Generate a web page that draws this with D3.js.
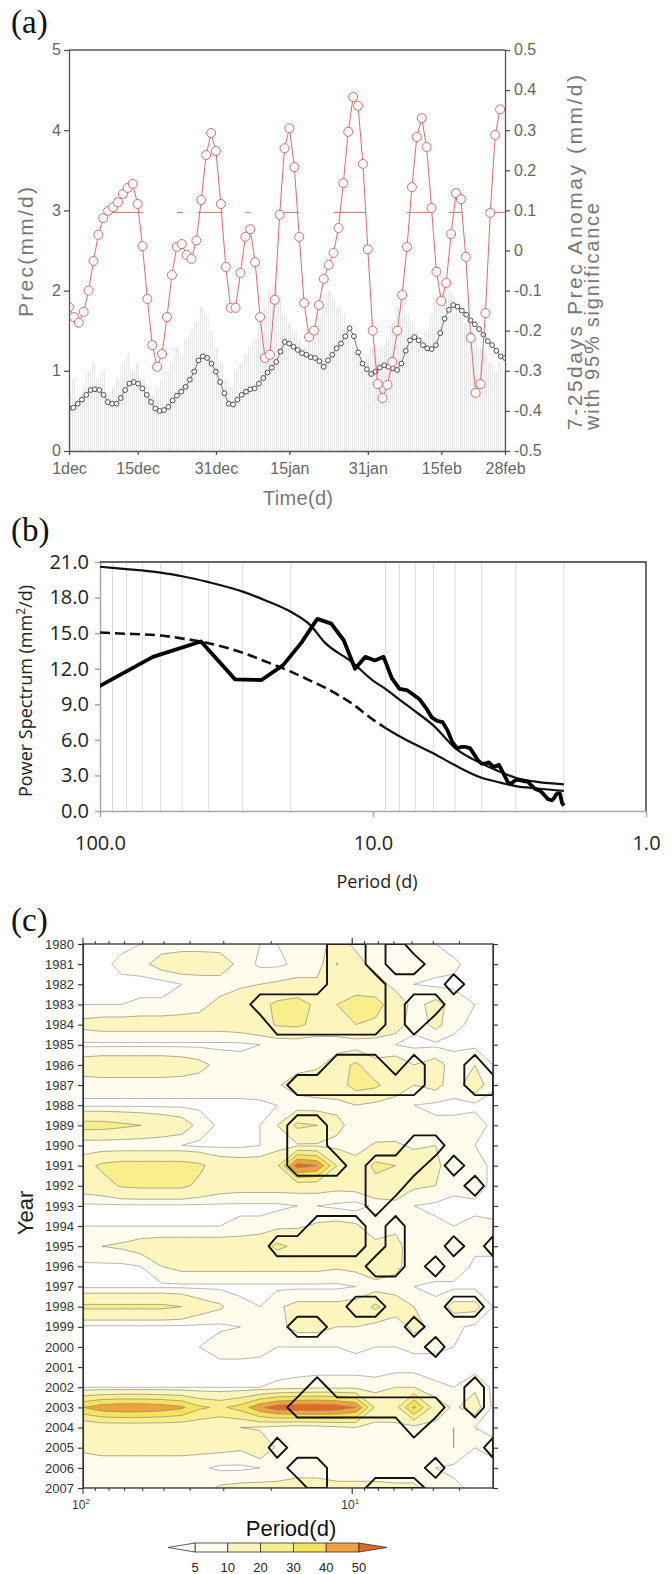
<!DOCTYPE html>
<html>
<head>
<meta charset="utf-8">
<script src="https://cdn.jsdelivr.net/npm/d3@7"></script>
<style>
  body { margin: 0; background: #fff; }
  svg { display: block; }
</style>
</head>
<body>
<svg id="fig" width="672" height="1574"></svg>
<script>
// ---------- panel (a) data ----------
const dayTicks = [0, 14, 30, 45, 61, 76, 89];
const dayTickLabels = ['1dec', '15dec', '31dec', '15jan', '31jan', '15feb', '28feb'];
const precTicks = [0, 1, 2, 3, 4, 5];
const anomTicks = [-0.5, -0.4, -0.3, -0.2, -0.1, 0, 0.1, 0.2, 0.3, 0.4, 0.5];

// faint daily bars (mm/d), left axis
const dailyPrec = [
  0.7, 0.9, 0.6, 0.8, 1.0, 1.1, 0.9, 1.0, 0.7, 0.8,
  0.9, 1.1, 1.2, 1.0, 1.1, 0.9, 0.8, 0.7, 0.8, 0.9,
  1.0, 1.1, 1.3, 1.2, 1.4, 1.5, 1.6, 1.8, 1.7, 1.5,
  1.3, 1.1, 0.9, 0.8, 1.0, 1.1, 1.2, 1.3, 1.4, 1.6,
  1.8, 2.0, 2.1, 1.9, 1.7, 1.6, 1.5, 1.4, 1.3, 1.4,
  1.5, 1.7, 1.8, 2.0, 1.9, 1.8, 1.7, 1.5, 1.3, 1.2,
  1.1, 1.2, 1.3, 1.2, 1.3, 1.4, 1.6, 1.8, 1.9, 1.7,
  1.6, 1.5, 1.4, 1.5, 1.7, 1.9, 2.0, 2.1, 2.0, 1.8,
  1.7, 1.6, 1.5, 1.4, 1.3, 1.2, 1.1, 1.0, 1.1, 1.0
];

// black circles (mm/d), left axis, evenly spread over 1dec-28feb
const climPrec = [
  0.53, 0.54, 0.59, 0.64, 0.70, 0.76, 0.77, 0.76, 0.70, 0.61,
  0.59, 0.59, 0.66, 0.76, 0.84, 0.86, 0.84, 0.78, 0.70, 0.61,
  0.53, 0.50, 0.51, 0.55, 0.63, 0.69, 0.74, 0.80, 0.89, 0.99,
  1.13, 1.18, 1.16, 1.09, 0.99, 0.86, 0.72, 0.59, 0.58, 0.64,
  0.70, 0.74, 0.77, 0.78, 0.84, 0.91, 0.98, 1.04, 1.11, 1.24,
  1.36, 1.34, 1.30, 1.26, 1.22, 1.20, 1.17, 1.16, 1.12, 1.05,
  1.13, 1.20, 1.28, 1.34, 1.43, 1.53, 1.43, 1.23, 1.09, 1.02,
  0.96, 0.99, 1.04, 1.07, 1.05, 1.03, 1.01, 1.09, 1.25, 1.38,
  1.42, 1.38, 1.32, 1.28, 1.27, 1.32, 1.47, 1.65, 1.76, 1.82,
  1.80, 1.75, 1.70, 1.63, 1.58, 1.52, 1.45, 1.37, 1.32, 1.25,
  1.18, 1.16
];

// red circles: 7-25 day anomaly (mm/d), right axis, one per day
const anomaly = [
  -0.141, -0.166, -0.18, -0.153, -0.10, -0.026, 0.039, 0.081, 0.099, 0.108,
  0.12, 0.141, 0.156, 0.166, 0.116, 0.011, -0.121, -0.236, -0.29, -0.258,
  -0.166, -0.061, 0.009, 0.016, -0.011, -0.021, 0.025, 0.126, 0.238, 0.293,
  0.248, 0.116, -0.041, -0.143, -0.143, -0.056, 0.034, 0.053, -0.029, -0.166,
  -0.268, -0.26, -0.123, 0.089, 0.255, 0.305, 0.208, 0.034, -0.131, -0.216,
  -0.2, -0.136, -0.071, -0.036, -0.006, 0.056, 0.168, 0.296, 0.383, 0.361,
  0.216, 0.003, -0.2, -0.333, -0.368, -0.335, -0.278, -0.2, -0.111, 0.009,
  0.158, 0.283, 0.33, 0.258, 0.106, -0.053, -0.126, -0.081, 0.041, 0.143,
  0.128, -0.016, -0.218, -0.355, -0.333, -0.156, 0.094, 0.288, 0.352
];

// 95% significance level and the day spans where it is marked
const sigLevel = 0.095;
const sigSpans = [[7.3, 15.1], [22, 23.3], [26.3, 31.4], [36, 37], [42.7, 47],
                  [54, 60.6], [69, 74.3], [77.5, 80.2], [85.3, 89]];

// ---------- panel (b) data ----------
const powerTicks = [0, 3, 6, 9, 12, 15, 18, 21];
const periodTicksB = [100, 10, 1];
const gridPeriods = [90, 80, 70, 60, 50, 40, 30, 20, 9, 8, 7, 6, 5, 4, 3, 2];
// spectrum at harmonics period = 128/k, k = 1..64
const spectrum = [
  9.2, 13.0, 14.3, 11.1, 11.05, 12.3, 14.2, 16.2, 15.8, 14.4,
  12.0, 13.0, 12.7, 13.0, 11.2, 10.3, 10.2, 9.8, 9.4, 8.7,
  7.9, 7.6, 7.5, 6.8, 5.8, 5.3, 5.4, 5.4, 5.3, 4.8,
  4.3, 4.0, 4.0, 4.1, 3.8, 3.75, 3.9, 3.4, 2.9, 2.4,
  2.3, 2.5, 2.65, 2.6, 2.55, 2.5, 2.5, 2.3, 2.1, 1.9,
  1.8, 1.75, 1.6, 1.4, 1.2, 1.0, 0.95, 0.9, 1.1, 1.4,
  1.5, 1.45, 0.7, 0.45
];
const curvePeriods = [100, 90, 80, 70, 60, 50, 40, 30, 25, 20, 17, 15, 12, 10, 9, 8, 7, 6, 5, 4, 3.5, 3, 2.5, 2];
const upperCurve = [20.6, 20.5, 20.4, 20.3, 20.1, 19.8, 19.3, 18.5, 17.8, 16.8, 15.7, 14.2, 12.6, 11.0, 10.3, 9.4, 8.4, 7.2, 5.3, 4.0, 3.4, 2.8, 2.45, 2.25];
const redNoise = [15.05, 15.0, 14.95, 14.9, 14.8, 14.55, 14.15, 13.35, 12.65, 11.75, 11.0, 10.4, 9.1, 7.7, 7.0, 6.3, 5.6, 4.85, 3.85, 2.8, 2.45, 2.1, 1.9, 1.7];

// ---------- panel (c) data ----------
const years = d3.range(1980, 2008);
const periodCols = [100, 85, 72, 61, 51, 43, 37, 31, 26, 22, 19, 16, 13.5, 11.4, 9.7, 8.2, 6.9, 5.9, 4.9, 4.2, 3.5, 3.0];
const levels = [5, 10, 20, 30, 40, 50];
const wavePower = [
  [3,3,3,5,7,7,7,7,6,5,5,6,8,12,9,5,6,5,5,3,3,3],
  [3,3,7,8,13,15,15,14,8,4,4,6,6,20.5,12,8,5,7,7,6,3,3],
  [3,3,3,3,3,5,6,7,9,10,11,12,12,13,14,13,8,5,4,4,4,3],
  [5,5,5,6,6,7,8,12,14,17,22,24,18,20,25,24,14,8,12,8,5,4],
  [12,13,13,13,13,13,13,13,14,16,21,22,17,16,20,18,14,6,12,6,4,3],
  [4,4,4,4,4,4,4,4,4,5,5,5,5,6,6,6,5,4,4,4,4,3],
  [14,15,15,15,15,14,12,8,7,7,7,7,8,15,22,12,14,10,13,7,10,5],
  [7,7,7,7,7,7,7,7,7,8,9,14,17,15,24,22,14,10,12,7,14,6],
  [4,4,4,4,4,4,4,4,4,4,5,6,6,8,10,8,7,5,4,4,4,3],
  [24,24,22,20,17,14,8,4,4,5,10,22,20,12,7,5,6,7,6,6,7,4],
  [5,5,5,5,5,5,4,4,4,5,7,9,9,8,7,11,11,9,10,6,5,4],
  [16,22,24,24,24,24,22,15,14,14,18,55,50,20,13,22,20,14,12,5,7,4],
  [14,16,21,22,22,22,18,14,13,13,13,13,13,12,13,17,15,11,10,6,7,4],
  [4,4,4,4,4,4,4,4,4,4,4,5,5,4,3,6,8,5,4,4,4,3],
  [5,5,5,5,5,5,5,5,6,6,8,9,11,12,11,6,8,10,6,5,6,6],
  [9,10,11,13,14,14,14,14,14,16,22,18,14,13,12,12,13,5,5,7,6,7],
  [4,4,4,5,10,12,12,12,12,12,12,12,12,11,12,18,12,6,8,8,4,3],
  [4,4,4,4,4,4,4,4,4,4,4,4,4,4,5,6,7,5,4,4,4,3],
  [22,22,22,22,22,20,14,11,6,5,9,12,12,12,13,22,14,10,6,12,12,5],
  [4,4,4,4,4,4,4,4,5,5,8,12,12,10,10,7,6,12,8,6,4,4],
  [4,4,4,4,4,4,5,8,8,7,5,5,5,5,6,5,5,6,6,5,4,4],
  [3,3,3,3,3,3,3,3,3,3,3,3,3,3,3,3,3,3,3,3,3,3],
  [5,5,5,5,5,5,5,5,5,5,6,7,8,8,8,7,10,10,6,5,9,4],
  [40,46,48,48,46,42,32,28,34,48,56,58,58,56,50,18,16,42,14,9,13,4],
  [10,12,12,12,12,12,12,11,10,9,7,5,6,8,10,7,8,7,8,10,5,4],
  [11,12,12,12,12,12,12,12,11,16,9,8,8,8,9,9,8,8,7,10,5,6],
  [7,7,7,7,7,7,6,4,4,5,8,9,9,8,8,8,7,7,5,4,4,4],
  [6,6,6,6,6,6,7,11,12,12,11,11,11,11,11,11,11,11,7,6,4,3]
];
// columns (index into periodCols) above the 95% level, one list per year
const sigCols = [
  [13,14,16], [13,14,16,17], [13,14,15,19], [9,10,11,12,13,14,15,17,18],
  [10,11,12,13,14,15,17], [], [13,14,15,17,20], [11,12,13,14,15,16,17,20,21],
  [], [11,12], [11,12,17,18], [11,12,13,15,16,17,19],
  [15,16,20], [15], [12,13,14,16], [10,11,12,13,14,16,19,21],
  [15,16,18], [], [14,15,19,20], [11,12,17],
  [18], [], [12,20], [11,12,13,14,15,16,17,18,20],
  [17], [10,21], [11,12,18], [12,15,16,17]
];
const bandColors = ['#ffffff', '#fffced', '#fcf5bd', '#f9ee8c', '#f6e35c', '#f1a23e', '#e2691e'];

// ---------- drawing ----------
const FONT_A = "'Liberation Sans', Arial, sans-serif";
const FONT_B = "'Open Sans', 'Liberation Sans', sans-serif";
const svg = d3.select('#fig');
const defs = svg.append('defs');

defs.append('pattern')
    .attr('id', 'vhatch')
    .attr('width', 2).attr('height', 4)
    .attr('patternUnits', 'userSpaceOnUse')
    .append('rect')
    .attr('width', 1).attr('height', 4)
    .attr('fill', '#e6e6e6');

function panelLabel(txt, y) {
    svg.append('text')
        .attr('x', 11).attr('y', y)
        .attr('font-family', "'Liberation Serif', 'Times New Roman', serif")
        .attr('font-size', 33)
        .attr('fill', '#111')
        .text(txt);
}

// ===== (a) =====
panelLabel('(a)', 33);
const A = {l: 69, r: 505, t: 50, b: 451};
const xA = d3.scaleLinear().domain([0, 89]).range([A.l, A.r]);
const yPrec = d3.scaleLinear().domain([0, 5]).range([A.b, A.t]);
const yAnom = d3.scaleLinear().domain([-0.5, 0.5]).range([A.b, A.t]);

defs.append('clipPath').attr('id', 'clipA')
    .append('rect').attr('x', A.l).attr('y', A.t - 6)
    .attr('width', A.r - A.l).attr('height', A.b - A.t + 6);

const gA = svg.append('g');
const plotA = gA.append('g').attr('clip-path', 'url(#clipA)');

plotA.selectAll('rect.bar')
    .data(dailyPrec)
    .enter().append('rect')
    .attr('class', 'bar')
    .attr('x', (d, i) => xA(i) - 2.45)
    .attr('width', 4.9)
    .attr('y', d => yPrec(d))
    .attr('height', d => yPrec(0) - yPrec(d))
    .attr('fill', 'url(#vhatch)');

// black climatology
const climDay = d3.scaleLinear().domain([0, climPrec.length - 1]).range([0, 89]);
plotA.append('path')
    .datum(climPrec)
    .attr('d', d3.line().x((d, i) => xA(climDay(i))).y(d => yPrec(d)))
    .attr('fill', 'none')
    .attr('stroke', '#777')
    .attr('stroke-width', 1);
plotA.selectAll('circle.clim')
    .data(climPrec)
    .enter().append('circle')
    .attr('class', 'clim')
    .attr('cx', (d, i) => xA(climDay(i)))
    .attr('cy', d => yPrec(d))
    .attr('r', 2.4)
    .attr('fill', '#fff')
    .attr('stroke', '#4a4a4a')
    .attr('stroke-width', 1);

// significance segments
plotA.selectAll('line.sig')
    .data(sigSpans)
    .enter().append('line')
    .attr('x1', d => xA(d[0])).attr('x2', d => xA(d[1]))
    .attr('y1', yAnom(sigLevel)).attr('y2', yAnom(sigLevel))
    .attr('stroke', '#e06a6a')
    .attr('stroke-width', 1);

// red anomaly
plotA.append('path')
    .datum(anomaly)
    .attr('d', d3.line().x((d, i) => xA(i)).y(d => yAnom(d)))
    .attr('fill', 'none')
    .attr('stroke', '#e26a6a')
    .attr('stroke-width', 1);
plotA.selectAll('circle.anom')
    .data(anomaly)
    .enter().append('circle')
    .attr('class', 'anom')
    .attr('cx', (d, i) => xA(i))
    .attr('cy', d => yAnom(d))
    .attr('r', 4.5)
    .attr('fill', '#fff')
    .attr('stroke', '#e26a6a')
    .attr('stroke-width', 1);

function styleAxis(g, font, size, color, lineColor, lineWidth) {
    g.attr('font-family', font).attr('font-size', size);
    g.selectAll('text').attr('fill', color);
    g.selectAll('line').attr('stroke', lineColor).attr('stroke-width', lineWidth);
    g.select('.domain').attr('stroke', lineColor).attr('stroke-width', lineWidth);
}

gA.append('g')
    .attr('transform', `translate(${A.l},0)`)
    .call(d3.axisLeft(yPrec).tickValues(precTicks).tickSize(5).tickSizeOuter(0).tickPadding(3).tickFormat(d3.format('d')))
    .call(g => styleAxis(g, FONT_A, 16, '#666', '#555', 1.3))
    .call(g => g.selectAll('text').attr('dy', '0.3em'));
gA.append('g')
    .attr('transform', `translate(${A.r},0)`)
    .call(d3.axisRight(yAnom).tickValues(anomTicks).tickSize(5).tickSizeOuter(0).tickPadding(4)
        .tickFormat(d => d === 0 ? '0' : d.toFixed(1)))
    .call(g => styleAxis(g, FONT_A, 16, '#666', '#555', 1.3))
    .call(g => g.selectAll('text').attr('dy', '0.3em'));
gA.append('g')
    .attr('transform', `translate(0,${A.b})`)
    .call(d3.axisBottom(xA).tickValues(dayTicks).tickSize(4).tickSizeOuter(0).tickPadding(8)
        .tickFormat((d, i) => dayTickLabels[i]))
    .call(g => styleAxis(g, FONT_A, 16, '#666', '#555', 1.3));
gA.append('line')
    .attr('x1', A.l).attr('x2', A.r).attr('y1', A.t).attr('y2', A.t)
    .attr('stroke', '#555').attr('stroke-width', 1.3);

gA.append('text')
    .attr('transform', 'translate(33,252) rotate(-90)')
    .attr('text-anchor', 'middle')
    .attr('font-family', FONT_A).attr('font-size', 21).attr('fill', '#777')
    .attr('textLength', 130).attr('lengthAdjust', 'spacing')
    .text('Prec(mm/d)');
gA.append('text')
    .attr('transform', 'translate(582,430) rotate(-90)')
    .attr('font-family', FONT_A).attr('font-size', 21).attr('fill', '#777')
    .attr('textLength', 355).attr('lengthAdjust', 'spacing')
    .text('7-25days Prec Anomay (mm/d)');
gA.append('text')
    .attr('transform', 'translate(599,430) rotate(-90)')
    .attr('font-family', FONT_A).attr('font-size', 20).attr('fill', '#777')
    .attr('textLength', 227).attr('lengthAdjust', 'spacing')
    .text('with 95% significance');
gA.append('text')
    .attr('x', 298).attr('y', 505)
    .attr('text-anchor', 'middle')
    .attr('font-family', FONT_A).attr('font-size', 20).attr('fill', '#777')
    .attr('textLength', 70).attr('lengthAdjust', 'spacing')
    .text('Time(d)');

// ===== (b) =====
panelLabel('(b)', 541);
const B = {l: 100, r: 646, t: 562, b: 811};
const xB = d3.scaleLog().domain([100, 1]).range([B.l, B.r]);
const yB = d3.scaleLinear().domain([0, 21]).range([B.b, B.t]);
const gB = svg.append('g');

defs.append('clipPath').attr('id', 'clipB')
    .append('rect').attr('x', B.l).attr('y', B.t - 2)
    .attr('width', B.r - B.l).attr('height', B.b - B.t + 4);

gB.selectAll('line.grid')
    .data(gridPeriods)
    .enter().append('line')
    .attr('x1', d => xB(d)).attr('x2', d => xB(d))
    .attr('y1', B.t).attr('y2', B.b)
    .attr('stroke', '#dcdcdc').attr('stroke-width', 1);

gB.append('g')
    .attr('transform', `translate(${B.l},0)`)
    .call(d3.axisLeft(yB).tickValues(powerTicks).tickSize(5).tickSizeOuter(0).tickPadding(6)
        .tickFormat(d => d.toFixed(1)))
    .call(g => styleAxis(g, FONT_B, 20, '#222', '#a8a8a8', 1.5));
gB.append('g')
    .attr('transform', `translate(0,${B.b})`)
    .call(d3.axisBottom(xB).tickValues(periodTicksB).tickSize(6).tickSizeOuter(0).tickPadding(19)
        .tickFormat(d => d.toFixed(1)))
    .call(g => styleAxis(g, FONT_B, 20, '#222', '#a8a8a8', 1.5));
gB.append('path')
    .attr('d', `M${B.l},${B.t}H${B.r}V${B.b}`)
    .attr('fill', 'none').attr('stroke', '#333').attr('stroke-width', 1.4);

const plotB = gB.append('g').attr('clip-path', 'url(#clipB)');
const curveLine = d3.line()
    .x(d => xB(d[0])).y(d => yB(d[1]))
    .curve(d3.curveMonotoneX);
const upperPts = curvePeriods.map((p, i) => [p, upperCurve[i]]);
const noisePts = curvePeriods.map((p, i) => [p, redNoise[i]]);
plotB.append('path').datum(upperPts).attr('d', curveLine)
    .attr('fill', 'none').attr('stroke', '#111').attr('stroke-width', 2.2);
plotB.append('path').datum(noisePts.filter(d => d[0] >= 9)).attr('d', curveLine)
    .attr('fill', 'none').attr('stroke', '#111').attr('stroke-width', 2.6)
    .attr('stroke-dasharray', '10,5');
plotB.append('path').datum(noisePts.filter(d => d[0] <= 9)).attr('d', curveLine)
    .attr('fill', 'none').attr('stroke', '#111').attr('stroke-width', 2.2);
plotB.append('path')
    .datum(spectrum.map((v, i) => [128 / (i + 1), v]))
    .attr('d', d3.line().x(d => xB(d[0])).y(d => yB(d[1])))
    .attr('fill', 'none').attr('stroke', '#000').attr('stroke-width', 3.8)
    .attr('stroke-linejoin', 'round');

gB.append('text')
    .attr('transform', 'translate(32,691) rotate(-90)')
    .attr('text-anchor', 'middle')
    .attr('font-family', FONT_B).attr('font-size', 18).attr('fill', '#222')
    .html('Power Spectrum (mm<tspan dy="-7" font-size="12">2</tspan><tspan dy="7">/d)</tspan>');
gB.append('text')
    .attr('x', 377).attr('y', 888)
    .attr('text-anchor', 'middle')
    .attr('font-family', FONT_B).attr('font-size', 18).attr('fill', '#222')
    .text('Period (d)');

// ===== (c) =====
panelLabel('(c)', 931);
const C = {l: 83, r: 493, t: 944, b: 1488};
const xC = d3.scaleLog().domain([100, 3]).range([C.l, C.r]);
const yC = d3.scaleLinear().domain([1980, 2007]).range([C.t, C.b]);
const gC = svg.append('g');

defs.append('clipPath').attr('id', 'clipC')
    .append('rect').attr('x', C.l).attr('y', C.t)
    .attr('width', C.r - C.l).attr('height', C.b - C.t);

const nCols = periodCols.length, nRows = years.length;
const logCols = periodCols.map(Math.log10);
function colToX(c) {
    const t = Math.max(0, Math.min(nCols - 1, c - 0.5));
    const i = Math.min(Math.floor(t), nCols - 2);
    const f = t - i;
    return xC(Math.pow(10, logCols[i] * (1 - f) + logCols[i + 1] * f));
}
function rowToY(r) {
    const t = Math.max(0, Math.min(nRows - 1, r - 0.5));
    return yC(years[0] + t);
}
const gridPath = d3.geoPath(d3.geoTransform({
    point(x, y) { this.stream.point(colToX(x), rowToY(y)); }
}));

const plotC = gC.append('g').attr('clip-path', 'url(#clipC)');
const bands = d3.contours().size([nCols, nRows]).thresholds(levels)(wavePower.flat());
plotC.selectAll('path.band')
    .data(bands)
    .enter().append('path')
    .attr('class', 'band')
    .attr('d', gridPath)
    .attr('fill', (d, i) => bandColors[i + 1])
    .attr('stroke', (d, i) => i === 0 ? '#9a9a9a' : '#8d8d78')
    .attr('stroke-width', 0.7);

const sigGrid = years.map((y, r) => periodCols.map((p, c) => sigCols[r].includes(c) ? 1 : 0));
const sigShapes = d3.contours().size([nCols, nRows]).thresholds([0.5])(sigGrid.flat());
plotC.selectAll('path.sig')
    .data(sigShapes)
    .enter().append('path')
    .attr('d', gridPath)
    .attr('fill', 'none')
    .attr('stroke', '#111')
    .attr('stroke-width', 1.9)
    .attr('stroke-linejoin', 'round');

// frame and ticks
gC.append('rect')
    .attr('x', C.l).attr('y', C.t)
    .attr('width', C.r - C.l).attr('height', C.b - C.t)
    .attr('fill', 'none').attr('stroke', '#333').attr('stroke-width', 1.3);
gC.append('g')
    .attr('transform', `translate(${C.l},0)`)
    .call(d3.axisLeft(yC).tickValues(years).tickSize(5).tickSizeOuter(0).tickPadding(4).tickFormat(d3.format('d')))
    .call(g => styleAxis(g, FONT_A, 13, '#333', '#333', 1.1));
gC.append('g')
    .attr('transform', `translate(${C.r},0)`)
    .call(d3.axisRight(yC).tickValues(years).tickSize(5).tickSizeOuter(0).tickFormat(''))
    .call(g => styleAxis(g, FONT_A, 13, '#333', '#333', 1.1));

const minorPeriods = [90, 80, 70, 60, 50, 40, 30, 20, 9, 8, 7, 6, 5, 4];
const majorPeriods = [100, 10];
[C.t, C.b].forEach((yy, k) => {
    const dir = k === 0 ? -1 : 1;
    gC.selectAll(null).data(minorPeriods).enter().append('line')
        .attr('x1', d => xC(d)).attr('x2', d => xC(d))
        .attr('y1', yy).attr('y2', yy + dir * 3)
        .attr('stroke', '#333').attr('stroke-width', 1);
    gC.selectAll(null).data(majorPeriods).enter().append('line')
        .attr('x1', d => xC(d)).attr('x2', d => xC(d))
        .attr('y1', yy).attr('y2', yy + dir * 6)
        .attr('stroke', '#333').attr('stroke-width', 1.1);
});
gC.selectAll('text.xlab')
    .data(majorPeriods)
    .enter().append('text')
    .attr('x', d => xC(d) - 2).attr('y', 1509)
    .attr('text-anchor', 'middle')
    .attr('font-family', FONT_A).attr('font-size', 12).attr('fill', '#333')
    .html(d => `10<tspan dy="-5" font-size="8">${Math.round(Math.log10(d))}</tspan>`);

gC.append('text')
    .attr('transform', 'translate(33,1213) rotate(-90)')
    .attr('text-anchor', 'middle')
    .attr('font-family', FONT_A).attr('font-size', 22).attr('fill', '#222')
    .text('Year');

// colorbar
const cbX = d3.scalePoint().domain(levels).range([195, 359]);
const cbTop = 1543, cbH = 9;
const cb = gC.append('g');
cb.selectAll('rect')
    .data(levels.slice(0, -1))
    .enter().append('rect')
    .attr('x', (d) => cbX(d))
    .attr('y', cbTop)
    .attr('width', (d, i) => cbX(levels[i + 1]) - cbX(d))
    .attr('height', cbH)
    .attr('fill', (d, i) => bandColors[i + 1])
    .attr('stroke', '#333').attr('stroke-width', 0.8);
cb.append('path')
    .attr('d', `M${cbX(levels[0])},${cbTop}L168,${cbTop + cbH / 2}L${cbX(levels[0])},${cbTop + cbH}Z`)
    .attr('fill', bandColors[0]).attr('stroke', '#333').attr('stroke-width', 0.8);
cb.append('path')
    .attr('d', `M${cbX(levels[5])},${cbTop}L387,${cbTop + cbH / 2}L${cbX(levels[5])},${cbTop + cbH}Z`)
    .attr('fill', bandColors[6]).attr('stroke', '#333').attr('stroke-width', 0.8);
cb.selectAll('text')
    .data(levels)
    .enter().append('text')
    .attr('x', d => cbX(d)).attr('y', 1572)
    .attr('text-anchor', 'middle')
    .attr('font-family', FONT_A).attr('font-size', 13).attr('fill', '#222')
    .text(d => d);
cb.append('text')
    .attr('x', 291).attr('y', 1536)
    .attr('text-anchor', 'middle')
    .attr('font-family', FONT_A).attr('font-size', 22).attr('fill', '#111')
    .text('Period(d)');
</script>
</body>
</html>
